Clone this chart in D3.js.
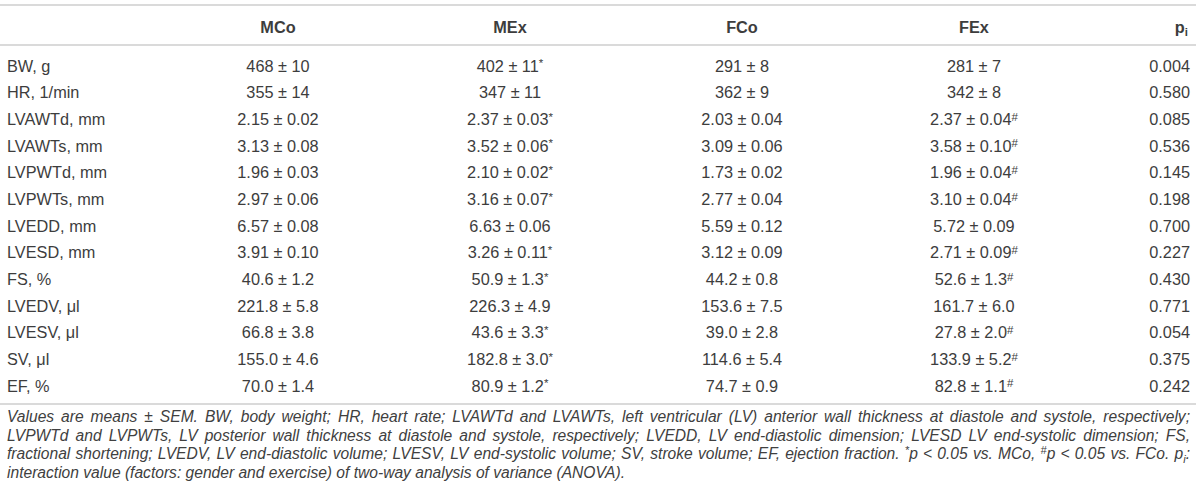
<!DOCTYPE html>
<html>
<head>
<meta charset="utf-8">
<script src="https://cdn.jsdelivr.net/npm/d3@7"></script>
<style>
  body { margin: 0; background: #fff; }
  text { font-family: "Liberation Sans", Arial, sans-serif; fill: #3d3d3d; }
</style>
</head>
<body>
<div id="table"></div>
<script>
// TABLE DATA
const rowLabels = ['BW, g', 'HR, 1/min', 'LVAWTd, mm', 'LVAWTs, mm', 'LVPWTd, mm', 'LVPWTs, mm',
  'LVEDD, mm', 'LVESD, mm', 'FS, %', 'LVEDV, μl', 'LVESV, μl', 'SV, μl', 'EF, %'];
const groups = ['MCo', 'MEx', 'FCo', 'FEx'];

const mco = ['468 ± 10', '355 ± 14', '2.15 ± 0.02', '3.13 ± 0.08', '1.96 ± 0.03', '2.97 ± 0.06',
  '6.57 ± 0.08', '3.91 ± 0.10', '40.6 ± 1.2', '221.8 ± 5.8', '66.8 ± 3.8', '155.0 ± 4.6', '70.0 ± 1.4'];
const mex = ['402 ± 11', '347 ± 11', '2.37 ± 0.03', '3.52 ± 0.06', '2.10 ± 0.02', '3.16 ± 0.07',
  '6.63 ± 0.06', '3.26 ± 0.11', '50.9 ± 1.3', '226.3 ± 4.9', '43.6 ± 3.3', '182.8 ± 3.0', '80.9 ± 1.2'];
const fco = ['291 ± 8', '362 ± 9', '2.03 ± 0.04', '3.09 ± 0.06', '1.73 ± 0.02', '2.77 ± 0.04',
  '5.59 ± 0.12', '3.12 ± 0.09', '44.2 ± 0.8', '153.6 ± 7.5', '39.0 ± 2.8', '114.6 ± 5.4', '74.7 ± 0.9'];
const fex = ['281 ± 7', '342 ± 8', '2.37 ± 0.04', '3.58 ± 0.10', '1.96 ± 0.04', '3.10 ± 0.04',
  '5.72 ± 0.09', '2.71 ± 0.09', '52.6 ± 1.3', '161.7 ± 6.0', '27.8 ± 2.0', '133.9 ± 5.2', '82.8 ± 1.1'];

// significance marks (* vs MCo, # vs FCo)
const mcoMark = ['', '', '', '', '', '', '', '', '', '', '', '', ''];
const mexMark = ['*', '', '*', '*', '*', '*', '', '*', '*', '', '*', '*', '*'];
const fcoMark = ['', '', '', '', '', '', '', '', '', '', '', '', ''];
const fexMark = ['', '', '#', '#', '#', '#', '', '#', '#', '', '#', '#', '#'];

const pInteraction = ['0.004', '0.580', '0.085', '0.536', '0.145', '0.198', '0.700',
  '0.227', '0.430', '0.771', '0.054', '0.375', '0.242'];

// FOOTNOTE (segments: [text, 'sup' | 'sub' | ''])
const footLines = [
  [['Values are means ± SEM. BW, body weight; HR, heart rate; LVAWTd and LVAWTs, left ventricular (LV) anterior wall thickness at diastole and systole, respectively;', '']],
  [['LVPWTd and LVPWTs, LV posterior wall thickness at diastole and systole, respectively; LVEDD, LV end-diastolic dimension; LVESD LV end-systolic dimension; FS,', '']],
  [['fractional shortening; LVEDV, LV end-diastolic volume; LVESV, LV end-systolic volume; SV, stroke volume; EF, ejection fraction. ', ''],
   ['*', 'sup'], ['p < 0.05 vs. MCo, ', ''], ['#', 'sup'], ['p < 0.05 vs. FCo. p', ''], ['i', 'sub'], [':', '']],
  [['interaction value (factors: gender and exercise) of two-way analysis of variance (ANOVA).', '']]
];

// DIMENSIONS
const width = 1200, height = 500;
const left = 7, right = 1190;
const fontSize = 16.3;

const svg = d3.select('#table')
  .append('svg')
  .attr('width', width)
  .attr('height', height);

// SCALES
const yRow = d3.scalePoint().domain(rowLabels).range([66, 386]);
const xCol = d3.scalePoint().domain(groups).range([278, 974]);

const columns = [
  { key: 'MCo', values: mco, marks: mcoMark },
  { key: 'MEx', values: mex, marks: mexMark },
  { key: 'FCo', values: fco, marks: fcoMark },
  { key: 'FEx', values: fex, marks: fexMark }
];

// RULES
const rules = [5, 45, 404];
svg.selectAll('line.rule')
  .data(rules)
  .enter()
  .append('line')
  .attr('class', 'rule')
  .attr('x1', 0)
  .attr('x2', 1196)
  .attr('y1', d => d)
  .attr('y2', d => d)
  .attr('stroke', '#dadada')
  .attr('stroke-width', 2);

// HEADER
const headerY = 27;
svg.selectAll('text.head')
  .data(groups)
  .enter()
  .append('text')
  .attr('class', 'head')
  .attr('x', d => xCol(d))
  .attr('y', headerY)
  .attr('dy', '0.35em')
  .attr('text-anchor', 'middle')
  .attr('font-size', fontSize)
  .attr('font-weight', 'bold')
  .text(d => d);

const pHead = svg.append('text')
  .attr('x', right - 2)
  .attr('y', headerY)
  .attr('dy', '0.35em')
  .attr('text-anchor', 'end')
  .attr('font-size', fontSize)
  .attr('font-weight', 'bold');
pHead.append('tspan').text('p');
pHead.append('tspan').attr('font-size', 11.5).attr('dy', 3).text('i');

// ROW LABELS
svg.selectAll('text.label')
  .data(rowLabels)
  .enter()
  .append('text')
  .attr('class', 'label')
  .attr('x', left)
  .attr('y', d => yRow(d))
  .attr('dy', '0.35em')
  .attr('font-size', fontSize)
  .text(d => d);

// VALUE CELLS
columns.forEach(col => {
  const cells = svg.selectAll(`text.cell-${col.key}`)
    .data(rowLabels)
    .enter()
    .append('text')
    .attr('class', `cell-${col.key}`)
    .attr('x', xCol(col.key))
    .attr('y', d => yRow(d))
    .attr('dy', '0.35em')
    .attr('text-anchor', 'middle')
    .attr('font-size', fontSize);

  cells.append('tspan').text((d, i) => col.values[i]);
  cells.append('tspan')
    .attr('font-size', 11.5)
    .attr('dy', -4.5)
    .text((d, i) => col.marks[i]);
});

// P INTERACTION
svg.selectAll('text.pval')
  .data(rowLabels)
  .enter()
  .append('text')
  .attr('class', 'pval')
  .attr('x', right)
  .attr('y', d => yRow(d))
  .attr('dy', '0.35em')
  .attr('text-anchor', 'end')
  .attr('font-size', fontSize)
  .text((d, i) => pInteraction[i]);

// FOOTNOTE (justified except last line)
const footY = d3.scalePoint().domain(d3.range(footLines.length)).range([422, 478]);

footLines.forEach((segs, li) => {
  const t = svg.append('text')
    .attr('x', left)
    .attr('y', footY(li))
    .attr('dy', '0.35em')
    .attr('font-size', 15.6)
    .attr('font-style', 'italic')
    .style('fill', '#404040');

  segs.forEach(([txt, kind]) => {
    const s = t.append('tspan').text(txt);
    if (kind !== '') s.attr('font-size', 11);
  });
  // shift sup/sub and return to baseline afterwards
  t.selectAll('tspan').each(function (d, i) {
    const prev = i > 0 ? segs[i - 1][1] : '';
    const cur = segs[i][1];
    let dy = 0;
    if (prev === 'sup') dy += 5;
    if (prev === 'sub') dy -= 4;
    if (cur === 'sup') dy -= 5;
    if (cur === 'sub') dy += 4;
    d3.select(this).attr('dy', dy);
  });

  if (li < footLines.length - 1) {
    const natural = t.node().getComputedTextLength();
    const spaces = segs.map(s => s[0]).join('').split(' ').length - 1;
    const extra = (right - left - natural) / spaces;
    t.style('word-spacing', `${extra}px`);
  }
});
</script>
</body>
</html>
